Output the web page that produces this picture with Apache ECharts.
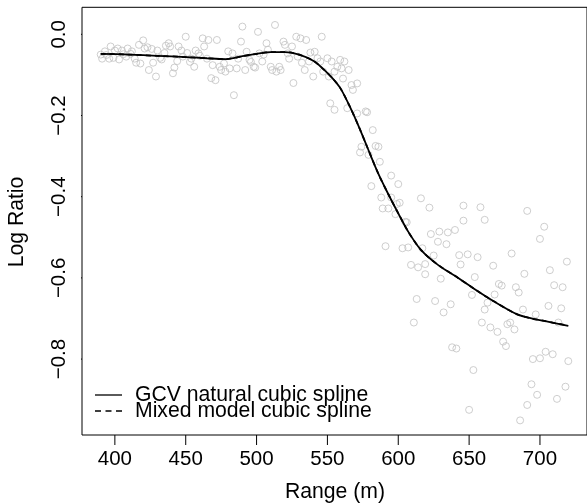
<!DOCTYPE html>
<html>
<head>
<meta charset="utf-8">
<script src="https://cdn.jsdelivr.net/npm/echarts@6/dist/echarts.min.js"></script>
<style>
html,body{margin:0;padding:0;background:#fff;}
#chart{width:587px;height:503px;}
</style>
</head>
<body>
<div id="chart"></div>
<script>
// Observed data: range (m) and log ratio
const range = [
390,391,393,394,396,397,399,400,402,403,405,406,408,409,411,412,414,415,417,418,
420,421,423,424,426,427,429,430,432,433,435,436,438,439,441,442,444,445,447,448,450,
451,453,454,456,457,459,460,462,463,465,466,468,469,471,472,474,475,477,478,480,
481,483,484,486,487,489,490,492,493,495,496,498,499,501,502,504,505,507,508,510,
511,513,514,516,517,519,520,522,523,525,526,528,529,531,532,534,535,537,538,540,
541,543,545,546,547,550,551,552,553,555,555,557,559,560,561,562,564,565,567,568,
571,571,573,574,577,578,579,581,582,584,586,587,588,589,591,593,595,595,598,599,
600,601,603,605,606,607,609,611,613,614,616,617,619,619,622,623,625,626,628,629,
630,632,634,635,637,638,640,641,643,644,646,646,649,650,652,653,654,656,658,659,
661,661,663,665,667,668,670,671,673,674,676,677,679,680,682,683,685,686,688,689,
691,691,694,695,697,698,700,700,703,704,706,707,709,710,712,713,715,716,718,719,720
];
const logratio = [
-0.050,-0.060,-0.042,-0.051,-0.060,-0.030,-0.058,-0.040,-0.035,-0.062,-0.040,-0.049,-0.055,-0.035,-0.048,-0.042,-0.060,-0.070,-0.026,-0.072,
-0.015,-0.035,-0.032,-0.088,-0.036,-0.070,-0.104,-0.040,-0.058,-0.062,-0.046,-0.028,-0.022,-0.030,-0.096,-0.082,-0.066,-0.030,-0.040,-0.055,-0.006,
-0.046,-0.068,-0.060,-0.080,-0.040,-0.047,-0.053,-0.010,-0.030,-0.060,-0.014,-0.108,-0.076,-0.113,-0.014,-0.080,-0.088,-0.072,-0.092,-0.042,
-0.084,-0.047,-0.150,-0.084,-0.060,-0.018,0.019,-0.088,-0.043,-0.063,-0.068,-0.080,-0.082,0.006,-0.047,-0.067,-0.050,-0.022,-0.038,-0.080,
-0.088,0.023,-0.092,-0.080,-0.088,-0.018,-0.026,-0.047,-0.060,-0.030,-0.120,-0.006,-0.055,-0.010,-0.070,-0.088,-0.014,-0.067,-0.045,-0.104,
-0.043,-0.059,-0.067,-0.006,-0.092,-0.059,-0.104,-0.170,-0.067,-0.092,-0.186,-0.080,-0.063,-0.084,-0.109,-0.067,-0.182,-0.088,-0.125,-0.137,
-0.121,-0.195,-0.291,-0.277,-0.190,-0.192,-0.297,-0.374,-0.236,-0.275,-0.277,-0.314,-0.402,-0.429,-0.522,-0.429,-0.402,-0.348,-0.443,-0.418,
-0.369,-0.415,-0.527,-0.462,-0.463,-0.525,-0.568,-0.710,-0.652,-0.574,-0.404,-0.527,-0.566,-0.591,-0.427,-0.492,-0.545,-0.657,-0.511,-0.486,
-0.602,-0.685,-0.517,-0.488,-0.665,-0.771,-0.482,-0.774,-0.544,-0.567,-0.459,-0.422,-0.542,-0.925,-0.642,-0.827,-0.598,-0.549,-0.426,-0.710,
-0.457,-0.678,-0.661,-0.722,-0.570,-0.641,-0.733,-0.615,-0.619,-0.757,-0.768,-0.714,-0.710,-0.540,-0.727,-0.623,-0.636,-0.951,-0.678,-0.590,
-0.913,-0.435,-0.862,-0.800,-0.690,-0.888,-0.798,-0.504,-0.474,-0.782,-0.669,-0.581,-0.788,-0.618,-0.898,-0.710,-0.675,-0.623,-0.868,-0.560,-0.805
];

// Fitted curves
const fitX   = [390,410,430,450,465,478,490,500,510,520,530,540,546,553,559,565,572,578,586,593,600,607,616,628,640,654,668,684,694,703,720];
const gcvFit = [-0.048,-0.050,-0.053,-0.056,-0.059,-0.061,-0.054,-0.048,-0.044,-0.044,-0.050,-0.065,-0.082,-0.106,-0.132,-0.172,-0.226,-0.277,-0.344,-0.394,-0.441,-0.486,-0.531,-0.568,-0.595,-0.628,-0.659,-0.690,-0.700,-0.706,-0.718];
const mixedFit = [-0.048,-0.050,-0.053,-0.056,-0.059,-0.061,-0.054,-0.048,-0.044,-0.044,-0.050,-0.065,-0.082,-0.106,-0.132,-0.172,-0.226,-0.277,-0.344,-0.394,-0.441,-0.486,-0.531,-0.568,-0.595,-0.628,-0.659,-0.690,-0.700,-0.706,-0.718];

const xTicks = [400,450,500,550,600,650,700];
const yTicks = [-0.8,-0.6,-0.4,-0.2,0.0];
const legendLabels = ['GCV natural cubic spline','Mixed model cubic spline'];
const xTitle = 'Range (m)';
const yTitle = 'Log Ratio';

const FONT = 'Liberation Sans, Arial, Helvetica, sans-serif';
const FS = 20.5;
const FL = 21.2;
const X_MIN = 376.8, X_MAX = 733.2, Y_MIN = -0.987, Y_MAX = 0.0665;
const GRID = {left:82, top:7.3, width:507, height:427.7};
const TICK = 10;
// tick length expressed in axis units via the grid's pixel size
const TICK_DY = TICK * (Y_MAX - Y_MIN) / GRID.height;
const TICK_DX = TICK * (X_MAX - X_MIN) / GRID.width;

const chart = echarts.init(document.getElementById('chart'), null, {renderer:'canvas'});
const pts = range.map((x,i)=>[x, logratio[i]]);
const gcv = fitX.map((x,i)=>[x, gcvFit[i]]);
const mix = fitX.map((x,i)=>[x, mixedFit[i]]);

function tickLine(a, b){
  return {type:'line', data:[a, b], showSymbol:false, clip:false, silent:true, z:10,
    lineStyle:{color:'#000', width:1}, emphasis:{disabled:true}};
}
const tickSeries = []
  .concat(xTicks.map(v=>tickLine([v, Y_MIN], [v, Y_MIN - TICK_DY])))
  .concat(yTicks.map(v=>tickLine([X_MIN, v], [X_MIN - TICK_DX, v])));

chart.setOption({
  animation:false,
  backgroundColor:'#fff',
  grid:Object.assign({show:true, borderColor:'#000', borderWidth:1, backgroundColor:'transparent', containLabel:false}, GRID),
  xAxis:{
    type:'value', min:X_MIN, max:X_MAX, position:'bottom',
    axisLine:{show:false, onZero:false},
    splitLine:{show:false},
    axisTick:{show:false},
    axisLabel:{show:true, customValues:xTicks, margin:14, color:'#000', fontFamily:FONT, fontSize:FS}
  },
  yAxis:{
    type:'value', min:Y_MIN, max:Y_MAX, position:'left',
    axisLine:{show:false, onZero:false},
    splitLine:{show:false},
    axisTick:{show:false},
    axisLabel:{show:true, customValues:yTicks, rotate:90, margin:12, color:'#000', fontFamily:FONT, fontSize:FS,
      formatter:v=>(v<0?'\u2212':'')+Math.abs(v).toFixed(1)}
  },
  series:[
    {type:'scatter', data:pts, symbol:'circle', symbolSize:7,
      itemStyle:{color:'rgba(0,0,0,0)', borderColor:'#c2c2c2', borderWidth:1}, z:2},
    {type:'line', data:gcv, showSymbol:false, smooth:0.3,
      lineStyle:{color:'#000', width:1.8}, z:3},
    {type:'line', data:mix, showSymbol:false, smooth:0.3,
      lineStyle:{color:'#000', width:1.8, type:[5,4]}, z:4}
  ].concat(tickSeries),
  graphic:[
    {type:'text', x:335, y:492, style:{text:xTitle, font:FL+'px '+FONT, fill:'#000', textAlign:'center', textVerticalAlign:'middle'}},
    {type:'text', x:17, y:222, rotation:Math.PI/2, style:{text:yTitle, font:FL+'px '+FONT, fill:'#000', textAlign:'center', textVerticalAlign:'middle'}},
    {type:'line', shape:{x1:95, y1:395, x2:122, y2:395}, style:{stroke:'#000', lineWidth:1.3}},
    {type:'line', shape:{x1:95, y1:411, x2:122, y2:411}, style:{stroke:'#000', lineWidth:1.3, lineDash:[6,4.5]}},
    {type:'text', x:135, y:395, style:{text:legendLabels[0], font:FL+'px '+FONT, fill:'#000', textAlign:'left', textVerticalAlign:'middle'}},
    {type:'text', x:135, y:411, style:{text:legendLabels[1], font:FL+'px '+FONT, fill:'#000', textAlign:'left', textVerticalAlign:'middle'}}
  ]
});
</script>
</body>
</html>
